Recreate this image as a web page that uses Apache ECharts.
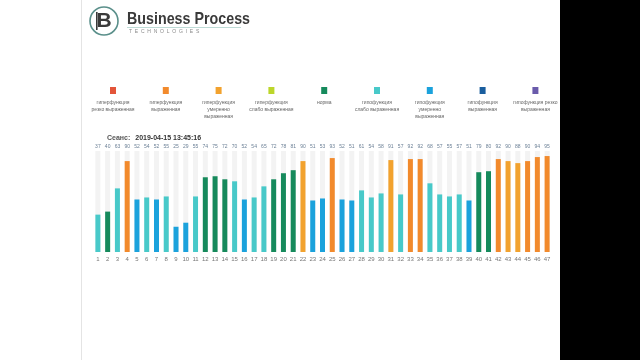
<!DOCTYPE html>
<html><head><meta charset="utf-8">
<script src="https://cdn.jsdelivr.net/npm/echarts@6/dist/echarts.min.js"></script>
<style>html,body{margin:0;padding:0;background:#fff}#c{width:640px;height:360px}</style>
</head><body><div id="c"></div>
<script>
// ---- data ----
var categories = ['1','2','3','4','5','6','7','8','9','10','11','12','13','14','15','16','17','18','19','20','21','22','23','24','25','26','27','28','29','30','31','32','33','34','35','36','37','38','39','40','41','42','43','44','45','46','47'];
var values = [37,40,63,90,52,54,52,55,25,29,55,74,75,72,70,52,54,65,72,78,81,90,51,53,93,52,51,61,54,58,91,57,92,92,68,57,55,57,51,79,80,92,90,88,90,94,95];
// index into legendNames for each bar
var barStatus = [5,4,5,1,6,5,6,5,6,6,5,4,4,4,5,6,5,5,4,4,4,2,6,6,1,6,6,5,5,5,2,5,1,1,5,5,5,5,6,4,4,1,2,2,1,1,1];
var legendNames = ['гиперфункция\nрезко выраженная','гиперфункция\nвыраженная','гиперфункция\nумеренно\nвыраженная','гиперфункция\nслабо выраженная','норма','гипофункция\nслабо выраженная','гипофункция\nумеренно\nвыраженная','гипофункция\nвыраженная','гипофункция резко\nвыраженная'];
var legendColors = ['#e3553a','#f28a2c','#f2a22e','#bcd62a','#168a5c','#48c9c9','#1ba2dc','#1a5e9e','#6a5bab'];
var maxValue = 100;
var sessionLabel = 'Сеанс:';
var sessionTime = '2019-04-15 13:45:16';

var chart = echarts.init(document.getElementById('c'), null, {renderer:'canvas'});
var F = 'Liberation Sans, Arial, sans-serif';

var graphics = [
  {type:'rect', shape:{x:560,y:0,width:80,height:360}, style:{fill:'#000'}, silent:true},
  {type:'rect', shape:{x:81,y:0,width:1,height:360}, style:{fill:'#e4e4e4'}, silent:true},
  {type:'circle', shape:{cx:104,cy:21,r:14}, style:{fill:'#fff',stroke:'#5a8f8a',lineWidth:1.6}},
  {type:'text', x:104, y:21, style:{text:'B', font:'bold 21px '+F, fill:'#3a3a3a', textAlign:'center', textVerticalAlign:'middle'}},
  {type:'rect', shape:{x:96,y:12,width:1.6,height:18}, style:{fill:'#3a3a3a'}},
  {type:'text', x:127, y:19, scaleX:0.84, style:{text:'Business Process', font:'bold 17px '+F, fill:'#3a3a3a', textVerticalAlign:'middle'}},
  {type:'rect', shape:{x:127,y:27,width:114,height:0.8}, style:{fill:'#a8cfc9'}},
  {type:'text', x:129, y:31.5, style:{text:'T  E  C  H  N  O  L  O  G  I  E  S', font:'5px '+F, fill:'#8a8a8a', textVerticalAlign:'middle'}}
];
for (var i=0;i<legendNames.length;i++){
  var cx = 113 + i*52.8;
  graphics.push({type:'rect', shape:{x:cx-3,y:87,width:6,height:7}, style:{fill:legendColors[i]}});
  graphics.push({type:'text', x:cx, y:99, style:{text:legendNames[i], font:'5px '+F, fill:'#666', textAlign:'center', lineHeight:7}});
}

var barData = values.map(function(v,i){ return {value:v, itemStyle:{color:legendColors[barStatus[i]]}}; });
var bgData = values.map(function(){ return maxValue; });

chart.setOption({
  animation:false,
  backgroundColor:'#fff',
  title:{
    left:102, top:124,
    text:'{a|'+sessionLabel+'} {b|'+sessionTime+'}',
    textStyle:{rich:{a:{fontSize:7,color:'#555',fontFamily:F},b:{fontSize:7,fontWeight:'bold',color:'#333',fontFamily:F}}}
  },
  graphic:graphics,
  grid:{left:93,right:88,top:151,bottom:108},
  xAxis:{type:'category', data:categories, axisLine:{show:false}, axisTick:{show:false},
    axisLabel:{fontSize:6, color:'#777', margin:4, fontFamily:F, interval:0}},
  yAxis:{type:'value', min:0, max:maxValue, show:false, splitLine:{show:false}},
  series:[
    {type:'bar', data:bgData, barWidth:5, itemStyle:{color:'#f3f3f3'}, silent:true,
     label:{show:true, position:'top', distance:2, fontSize:5, color:'#6a7f95', fontFamily:F,
       formatter:function(p){ return values[p.dataIndex]; }}},
    {type:'bar', data:barData, barWidth:5, barGap:'-100%'}
  ]
});
</script></body></html>
